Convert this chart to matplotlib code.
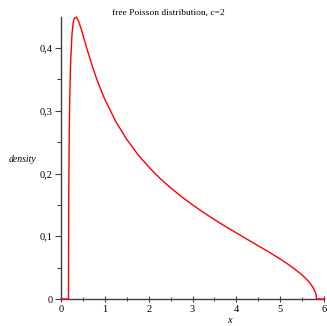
import matplotlib
matplotlib.use("Agg")
import matplotlib.pyplot as plt
from matplotlib.ticker import MultipleLocator, FuncFormatter

# density curve values (zero outside the support)
x_vals = [0.0, 0.1716, 0.175, 0.18, 0.185, 0.19, 0.2, 0.21, 0.22, 0.25, 0.275, 0.3,
          0.35, 0.4, 0.45, 0.5, 0.6, 0.7, 0.8, 0.9, 1.0, 1.25, 1.5, 1.75, 2.0,
          2.25, 2.5, 2.75, 3.0, 3.25, 3.5, 3.75, 4.0, 4.25, 4.5, 4.75, 5.0,
          5.15, 5.3, 5.5, 5.65, 5.75, 5.8, 5.82, 5.828, 6.0]
density = [0.0, 0.0, 0.1266, 0.1929, 0.2368, 0.2700, 0.3183, 0.3522, 0.3770, 0.4211,
           0.4386, 0.4470, 0.4496, 0.4431, 0.4328, 0.4211, 0.3970, 0.3743, 0.3536,
           0.3351, 0.3183, 0.2829, 0.2544, 0.2307, 0.2105, 0.1929, 0.1772, 0.1631,
           0.1501, 0.1380, 0.1266, 0.1157, 0.1053, 0.0950, 0.0848, 0.0745, 0.0637,
           0.0568, 0.0494, 0.0383, 0.0279, 0.0183, 0.0110, 0.0060, 0.0, 0.0]

title = "free Poisson distribution, c=2"
xlabel = "x"
ylabel = "density"

serif = ["Liberation Serif", "DejaVu Serif"]

fig = plt.figure(figsize=(3.27, 3.26), dpi=100)
ax = fig.add_axes([0.1865, 0.0828, 0.8045, 0.8652])
ax.plot(x_vals, density, color="#ff0000", lw=1.0, clip_on=False, zorder=3)

ax.set_xlim(0, 6)
ax.set_ylim(0, 0.4496)
ax.spines["top"].set_visible(False)
ax.spines["right"].set_visible(False)
for s in ("left", "bottom"):
    ax.spines[s].set_color("#404040")
    ax.spines[s].set_linewidth(1.0)

ax.xaxis.set_major_locator(MultipleLocator(1))
ax.xaxis.set_minor_locator(MultipleLocator(0.5))
ax.yaxis.set_major_locator(MultipleLocator(0.1))
ax.yaxis.set_minor_locator(MultipleLocator(0.05))

def fmt(v, pos):
    s = ("%.1f" % v).rstrip("0").rstrip(".")
    return s.replace(".", ",")

ax.xaxis.set_major_formatter(FuncFormatter(fmt))
ax.yaxis.set_major_formatter(FuncFormatter(fmt))

ax.tick_params(axis="x", which="major", direction="inout", length=4, width=0.8,
               color="#404040", pad=2, labelsize=7.5)
ax.tick_params(axis="x", which="minor", direction="inout", length=3, width=0.8,
               color="#404040")
ax.tick_params(axis="y", which="major", direction="out", length=4, width=0.8,
               color="#404040", pad=2, labelsize=7.5)
ax.tick_params(axis="y", which="minor", direction="out", length=3, width=0.8,
               color="#404040")
for lab in ax.get_xticklabels() + ax.get_yticklabels():
    lab.set_fontfamily(serif)

fig.text(0.514, 0.960, title, ha="center", va="center", fontsize=6.8, family=serif)
fig.text(0.703, 0.018, xlabel, ha="center", va="center", fontsize=7.5,
         family=serif, style="italic")
fig.text(0.070, 0.512, ylabel, ha="center", va="center", fontsize=7.0,
         family=serif, style="italic")

fig.savefig("out.png", dpi=100)
